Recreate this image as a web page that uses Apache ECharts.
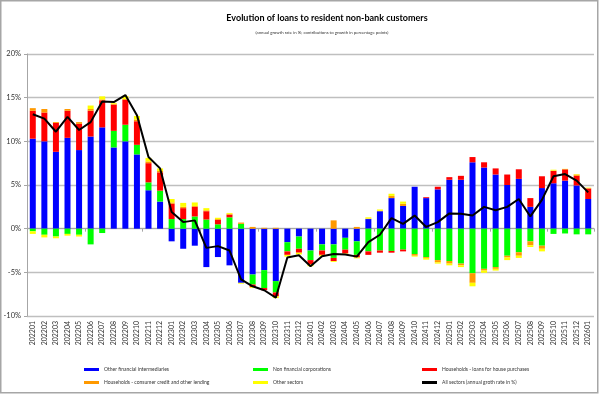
<!DOCTYPE html>
<html>
<head>
<meta charset="utf-8">
<script src="https://cdn.jsdelivr.net/npm/echarts@6/dist/echarts.min.js"></script>
<style>
html,body{margin:0;padding:0;background:#fff;}
#chart{width:604px;height:395px;}
</style>
</head>
<body>
<div id="chart"></div>
<script>
const categories = ['202201','202202','202203','202204','202205','202206','202207','202208','202209','202210','202211','202212',
'202301','202302','202303','202304','202305','202306','202307','202308','202309','202310','202311','202312',
'202401','202402','202403','202404','202405','202406','202407','202408','202409','202410','202411','202412',
'202501','202502','202503','202504','202505','202506','202507','202508','202509','202510','202511','202512','202601'];

const otherFinancial = [10.3,10.0,8.8,10.4,9.0,10.55,11.6,9.3,10.0,8.5,4.4,3.1,
-1.45,-2.3,-1.95,-4.4,-3.25,-4.2,-6.2,-5.25,-4.75,-6.0,-1.55,-0.9,
-2.5,-1.8,-1.8,-1.05,-1.45,1.1,2.0,3.5,2.6,4.8,3.5,4.5,
5.6,5.6,7.6,7.0,6.2,5.0,5.7,2.5,4.65,5.2,5.5,4.95,3.4];

const nonFinancial = [-0.3,-0.7,-0.9,-0.6,-0.7,-1.8,-0.5,1.9,1.9,1.1,0.9,1.25,
1.1,1.1,1.4,1.05,0.5,1.3,0.55,-1.15,-2.05,-1.3,-1.05,-1.4,
-1.1,-0.7,-1.55,-1.35,-1.55,-2.6,-2.5,-2.55,-2.4,-2.9,-3.25,-3.6,
-3.7,-4.0,-5.1,-4.6,-4.4,-3.1,-2.7,-1.45,-1.95,-0.6,-0.55,-0.65,-0.65];

const housePurchase = [3.2,3.3,3.3,3.1,3.0,2.95,3.1,3.0,2.85,2.7,2.2,2.1,
1.75,1.25,1.1,0.95,0.5,0.3,0,-0.3,-0.25,-0.45,-0.4,-0.45,
-0.5,-0.5,-0.35,-0.45,-0.3,-0.4,-0.25,-0.2,-0.2,0,0.1,0.3,
0.3,0.45,0.6,0.6,0.7,1.2,1.1,1.0,1.35,1.4,1.3,1.1,1.2];

const consumerCredit = [0.3,0.4,0.1,0.2,0.2,0.2,0.1,0.1,0.1,0.2,0.2,0.15,
0.15,0.15,0.1,0.1,0.1,0.1,0.15,0.2,0.1,0.1,0,0,
0,0,0.95,0,0.2,0.05,0.05,0.25,0.25,-0.2,-0.1,-0.25,
-0.3,-0.2,-1.1,-0.2,-0.2,-0.2,-0.4,-0.45,-0.35,0.05,0,0.15,0.05];

const otherSectors = [-0.3,-0.3,-0.2,-0.2,-0.2,0.4,0.35,0.1,0.35,0.4,0.4,0.3,
0.4,0.45,0.4,0.25,0.15,0.1,-0.1,-0.1,0,-0.2,-0.2,-0.2,
-0.2,-0.15,-0.1,-0.1,-0.1,0.15,0.15,0.25,0.25,-0.1,-0.2,-0.15,
-0.2,-0.2,-0.4,-0.25,-0.2,-0.3,-0.25,-0.2,-0.3,0.1,0.05,0.05,0.05];

const allSectors = [13.1,12.6,11.1,12.8,11.3,12.2,14.55,14.5,15.3,13.0,8.2,6.9,
1.9,0.75,0.95,-2.2,-2.0,-2.5,-5.8,-6.6,-7.05,-7.9,-3.3,-3.05,
-4.3,-3.15,-2.9,-2.95,-3.2,-1.55,-0.7,1.2,0.55,1.5,0.2,0.75,
1.75,1.7,1.5,2.5,2.1,2.5,3.4,1.4,3.3,6.0,6.25,5.5,4.15];

const yTicks = {min: -10, max: 20, interval: 5};

const names = ['Other financial intermediaries','Non financial corporations','Households - loans for house purchases',
'Households - consumer credit and other lending','Other sectors','All sectors (annual groth rate in %)'];
const colors = ['#0000ff','#00ff00','#ff0000','#ff9900','#ffff00','#000000'];

const FONT = 'Lato';
const chart = echarts.init(document.getElementById('chart'), null, {renderer: 'canvas'});

function barSeries(i, data) {
  return {name: names[i], type: 'bar', stack: 'total', data: data, barWidth: 6,
    itemStyle: {color: colors[i]}, emphasis: {disabled: true}, animation: false};
}
function legendAt(i, left, top) {
  return {data: [names[i]], left: left, top: top, padding: 0, itemWidth: 15, itemHeight: 3,
    itemGap: 0, itemTextGap: 4, icon: 'rect', selectedMode: false,
    textStyle: {fontSize: 5, color: '#333', fontFamily: FONT}};
}

chart.setOption({
  animation: false,
  textStyle: {fontFamily: FONT},
  title: [
    {text: 'Evolution of loans to resident non-bank customers', left: 322, top: 9, textAlign: 'center',
     textStyle: {fontSize: 9, fontWeight: 'bold', color: '#000', fontFamily: FONT}},
    {text: '(annual growth rate in %; contributions to growth in percentage points)', left: 317, top: 26, textAlign: 'center',
     textStyle: {fontSize: 4.3, fontWeight: 'normal', color: '#333', fontFamily: FONT}}
  ],
  legend: [
    legendAt(0, 84, 367), legendAt(1, 253, 367), legendAt(2, 422, 367),
    legendAt(3, 84, 380), legendAt(4, 253, 380), legendAt(5, 422, 380)
  ],
  grid: {left: 27, right: 10, top: 54, bottom: 79, containLabel: false},
  xAxis: [
    {type: 'category', data: categories, position: 'bottom',
     axisLine: {show: false, onZero: false}, axisTick: {show: false},
     axisLabel: {interval: 0, rotate: 90, fontSize: 7, color: '#333', margin: 5, fontFamily: FONT}},
    {type: 'category', data: categories, position: 'bottom',
     axisLine: {show: true, onZero: true, lineStyle: {color: '#a6a6a6', width: 1}},
     axisTick: {show: true, length: 3, lineStyle: {color: '#a6a6a6'}},
     axisLabel: {show: false}}
  ],
  yAxis: {type: 'value', min: yTicks.min, max: yTicks.max, interval: yTicks.interval,
    axisLine: {show: true, lineStyle: {color: '#a6a6a6'}},
    axisTick: {show: true, length: 3, lineStyle: {color: '#a6a6a6'}},
    axisLabel: {formatter: '{value}%', fontSize: 7.5, color: '#333', margin: 6, fontFamily: FONT},
    splitLine: {lineStyle: {color: '#bfbfbf', width: 1.3}}},
  series: [
    barSeries(0, otherFinancial),
    barSeries(1, nonFinancial),
    barSeries(2, housePurchase),
    barSeries(3, consumerCredit),
    barSeries(4, otherSectors),
    {name: names[5], type: 'line', data: allSectors, symbol: 'none', z: 10,
     color: '#000', lineStyle: {color: '#000', width: 2}, emphasis: {disabled: true}}
  ],
  graphic: [
    {type: 'rect', shape: {x: 0.75, y: 0.75, width: 597, height: 392},
     style: {fill: null, stroke: '#a6a6a6', lineWidth: 1.5}, silent: true, z: 100}
  ]
});
</script>
</body>
</html>
